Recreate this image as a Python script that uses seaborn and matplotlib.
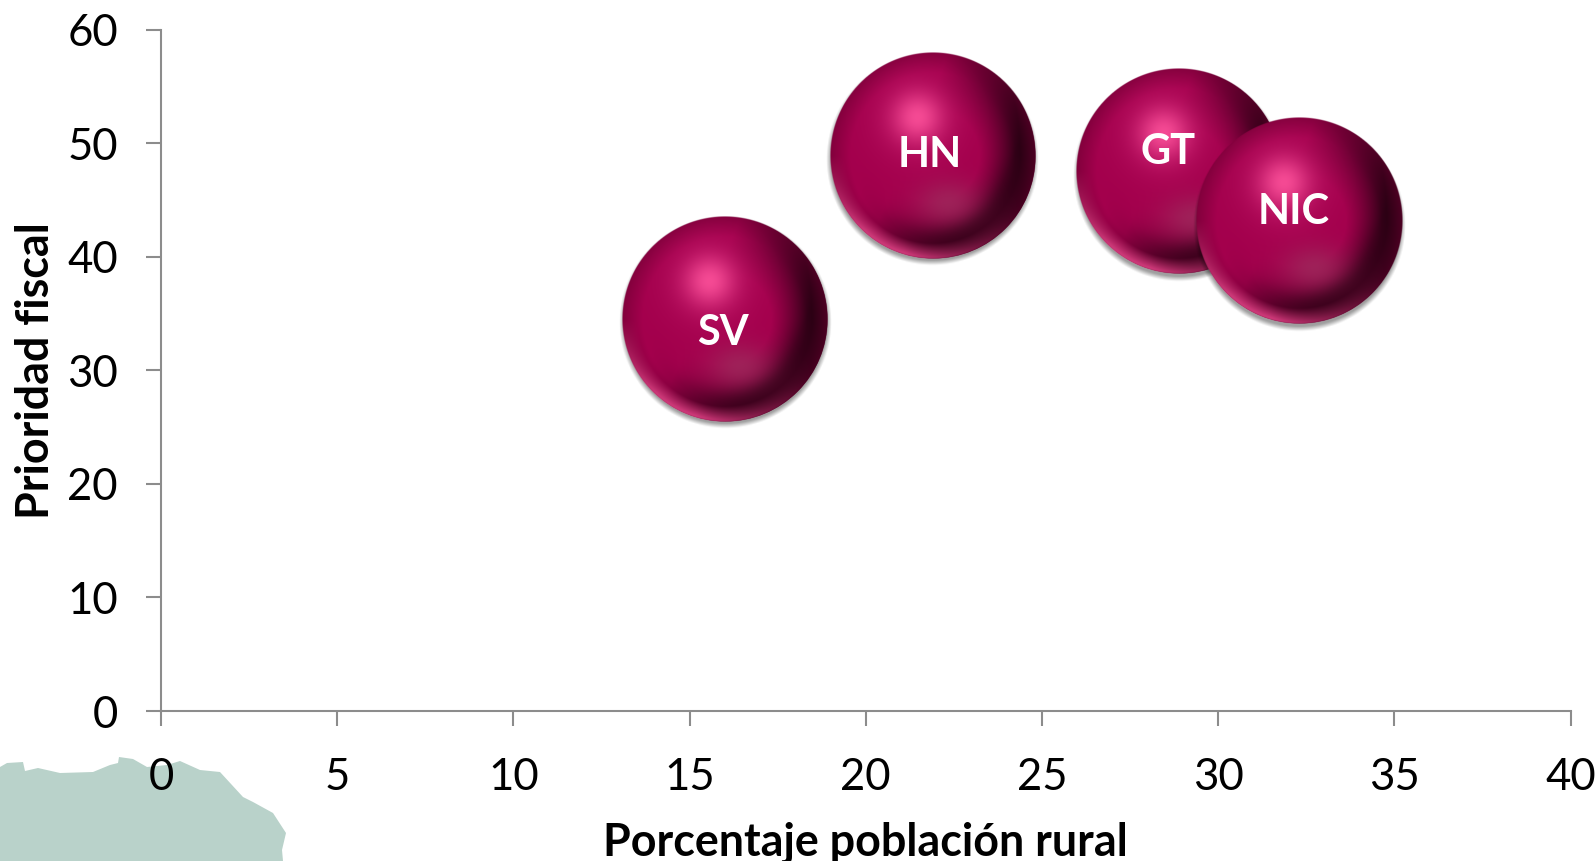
import numpy as np
import pandas as pd
import matplotlib
matplotlib.use("Agg")
import matplotlib.pyplot as plt
from matplotlib.patches import Polygon
import seaborn as sns

# --- Data ---
countries = ["SV", "HN", "GT", "NIC"]
rural_pct = [16.0, 21.9, 28.9, 32.3]
fiscal_priority = [34.5, 48.9, 47.5, 43.1]
x_ticks = [0, 5, 10, 15, 20, 25, 30, 35, 40]
y_ticks = [0, 10, 20, 30, 40, 50, 60]
x_label = "Porcentaje población rural"
y_label = "Prioridad fiscal"

# label offsets from the ball centre, in pixels
label_dx = [-2, -3, -11, -6]
label_dy = [14, -1, -19, -9]

W, H = 1596, 861
BALL_R = 103  # pixels

# green land shape in the bottom left corner (pixels of the picture)
land_px = [(0, 767), (7, 763), (23, 762), (25, 771), (38, 768), (60, 773), (93, 772),
           (110, 765), (118, 763), (119, 757), (133, 759), (147, 767), (167, 765),
           (180, 761), (200, 770), (220, 772), (243, 797), (253, 802), (273, 813),
           (286, 833), (282, 850), (283, 861), (0, 861)]

sns.set_theme(style="white")
plt.rcParams["font.family"] = ["Lato", "DejaVu Sans"]
plt.rcParams["text.color"] = "#000000"
plt.rcParams["axes.labelcolor"] = "#000000"

fig = plt.figure(figsize=(W / 100, H / 100), dpi=100, facecolor="white")
ax = fig.add_axes([161 / W, (H - 711) / H, (1570.6 - 161) / W, (711 - 29.5) / H])
ax.patch.set_alpha(0)
ax.set_zorder(2)

fig.patches.append(Polygon([(x / W, 1 - y / H) for x, y in land_px], closed=True,
                           facecolor="#b9d2ca", edgecolor="none",
                           transform=fig.transFigure, zorder=0))


def mix(rgb, col, amount):
    amount = np.clip(amount, 0, 1)[..., None]
    return rgb * (1 - amount) + np.array(col) * amount


def ball_image(n=420):
    # simple sphere shading, u to the right and v downwards
    u, v = np.meshgrid(np.linspace(-1, 1, n), np.linspace(-1, 1, n))
    r = np.hypot(u, v)
    rgb = np.ones((n, n, 3)) * np.array([0.64, 0.0, 0.30])
    # darker towards the lower right edge
    rgb = mix(rgb, (0.13, 0.0, 0.06), np.clip(r - 0.45, 0, 1) * 2.5 * np.clip(0.25 + 0.95 * u + 0.4 * v, 0, 1))
    # darker edge at the top and left
    rgb = mix(rgb, (0.42, 0.0, 0.19), np.clip(r - 0.8, 0, 1) * 3.0)
    # dark band over the bottom rim
    rgb = mix(rgb, (0.22, 0.0, 0.10), np.exp(-((r - 0.84) / 0.16) ** 2) * np.clip(v * 1.6, 0, 1) * np.clip(0.65 + 0.9 * u, 0, 1))
    # soft glow low in the ball
    rgb = mix(rgb, (0.62, 0.16, 0.36), np.exp(-(((u - 0.15) / 0.32) ** 2 + ((v - 0.46) / 0.22) ** 2)) * 0.8)
    # highlight with a wider halo
    d2 = (u + 0.15) ** 2 + (v + 0.37) ** 2
    rgb = mix(rgb, (0.76, 0.10, 0.42), np.exp(-d2 / 0.16) * 0.8)
    rgb = mix(rgb, (0.96, 0.29, 0.58), np.exp(-d2 / 0.05))
    # pink rim at the bottom
    rim = np.clip((r - 0.85) / 0.13, 0, 1) * np.clip(v * 1.4, 0, 1) * np.clip(0.75 - 0.9 * u, 0, 1)
    rgb = mix(rgb, (0.80, 0.22, 0.47), rim)
    alpha = np.clip((1 - r) * n / 2, 0, 1)
    return np.dstack([rgb, alpha])


def shadow_image(n=200):
    u, v = np.meshgrid(np.linspace(-1.1, 1.1, n), np.linspace(-1.1, 1.1, n))
    d = np.hypot(u, v - 0.035)
    img = np.zeros((n, n, 4))
    img[..., 3] = np.clip((1.035 - d) / 0.05, 0, 1) * 0.38
    return img


df = pd.DataFrame({"pais": countries, "rural": rural_pct, "fiscal": fiscal_priority})

# base circles come from seaborn, the shading is laid on top of them
sns.scatterplot(data=df, x="rural", y="fiscal", ax=ax, s=(2 * BALL_R * 0.72 * 0.99) ** 2,
                color="#8a0040", linewidth=0, legend=False, zorder=1)

ax.set_xlim(0, 40)
ax.set_ylim(0, 60)

px_x = ax.get_position().width * W / 40
px_y = ax.get_position().height * H / 60
ball = ball_image()
shadow = shadow_image()
for name, cx, cy, dx, dy in zip(countries, rural_pct, fiscal_priority, label_dx, label_dy):
    rx, ry = BALL_R / px_x, BALL_R / px_y
    ax.imshow(shadow, extent=(cx - 1.1 * rx, cx + 1.1 * rx, cy - 1.1 * ry, cy + 1.1 * ry),
              aspect="auto", zorder=2, interpolation="bilinear")
    ax.imshow(ball, extent=(cx - rx, cx + rx, cy - ry, cy + ry),
              aspect="auto", zorder=2, interpolation="bilinear")
    ax.text(cx + dx / px_x, cy - dy / px_y, name, color="white", fontsize=30,
            fontweight="bold", ha="center", va="center", zorder=5)

ax.set_xlim(0, 40)
ax.set_ylim(0, 60)
ax.set_xticks(x_ticks)
ax.set_yticks(y_ticks)
ax.tick_params(axis="both", which="major", direction="out", length=11, width=1.5,
               color="#8c8c8c", labelsize=31.5, labelcolor="#000000", bottom=True, left=True)
ax.tick_params(axis="x", pad=22)
ax.tick_params(axis="y", pad=20)

sns.despine(ax=ax)
for side in ["left", "bottom"]:
    ax.spines[side].set_color("#8c8c8c")
    ax.spines[side].set_linewidth(1.5)
    ax.spines[side].set_zorder(1)

ax.set_xlabel(x_label, fontsize=32.3, fontweight="bold", labelpad=17)
ax.set_ylabel(y_label, fontsize=32.3, fontweight="bold", labelpad=7)

plt.savefig("out.png", dpi=100)
plt.close()
